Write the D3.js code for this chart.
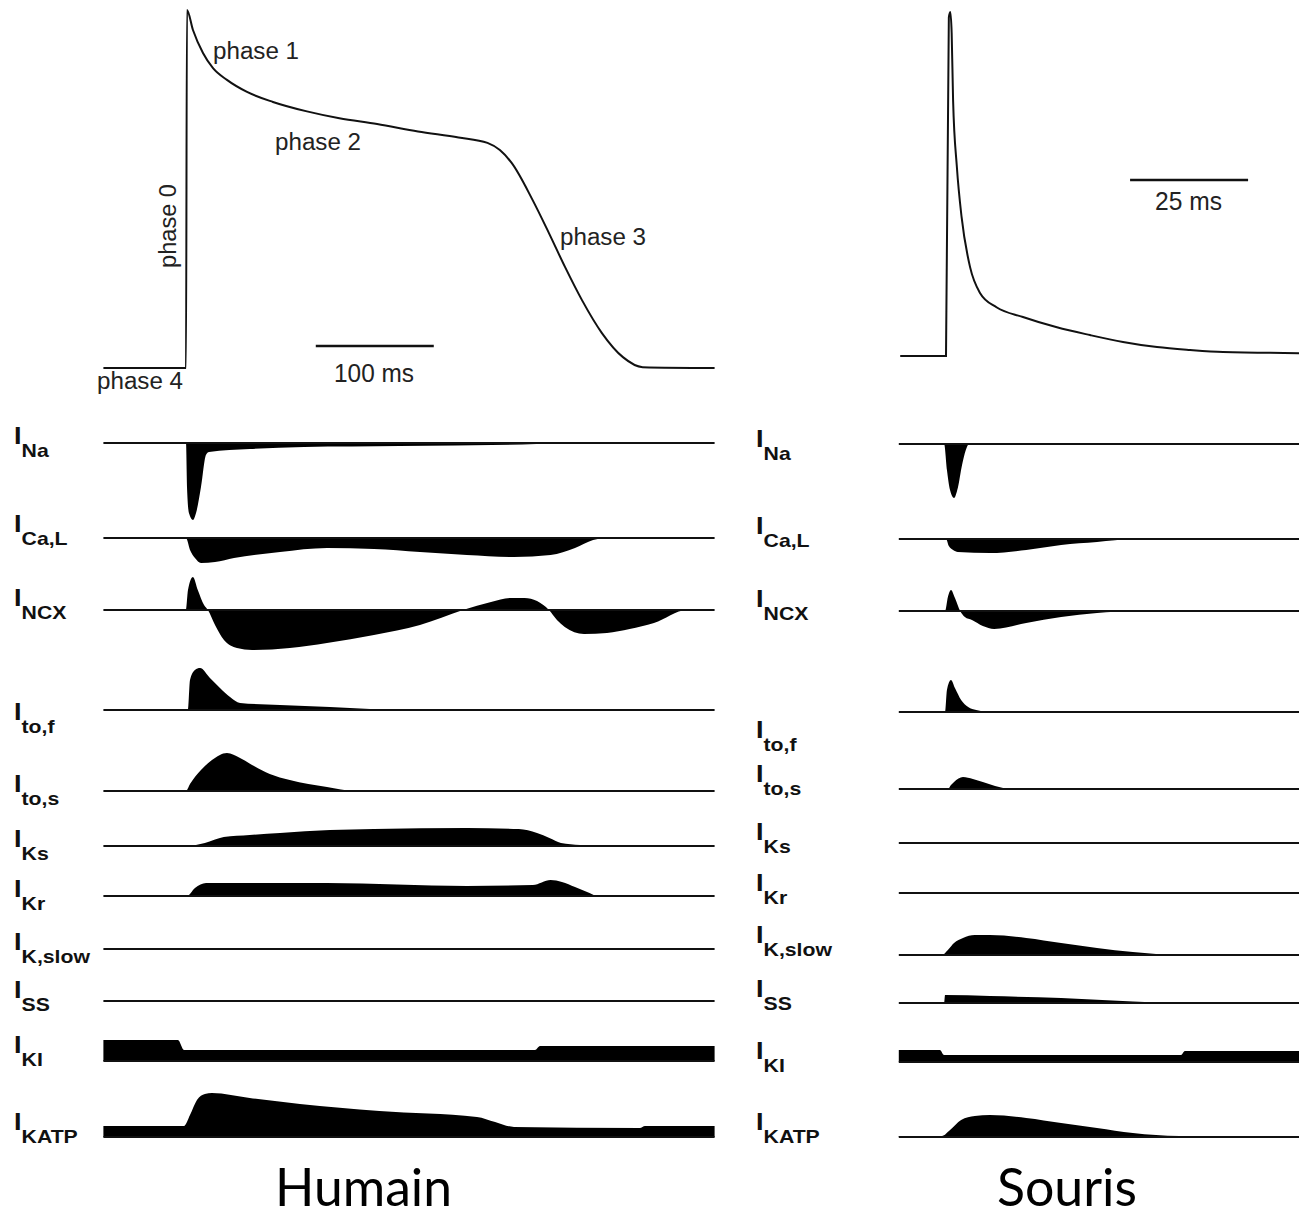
<!DOCTYPE html>
<html>
<head>
    <title>Potentiel d'action - Humain / Souris</title>
    <script src="https://d3js.org/d3.v7.min.js"></script>
    <style type="text/css">
        body { margin: 0; background: #ffffff; }
        svg { background: #ffffff; display: block; }
        .trace { fill: none; stroke: #111; stroke-width: 2; }
        .base { fill: none; stroke: #111; stroke-width: 1.8; }
        .courant { fill: #000; stroke: none; }
        .phase { font-family: "Liberation Sans", Arial, sans-serif; fill: #222; }
        .lbl { font-family: "Liberation Sans", Arial, sans-serif; font-weight: bold; fill: #111; }
        .titre { font-family: Lato, "Open Sans", sans-serif; fill: #000; }
    </style>
</head>
<body>
<div id="fig"></div>
<script>
// ---- donnees (temps en ms, potentiel en mV, courants en u.a.) ----
var apHumain = [[-70,-85],[0,-85],[0.8,40],[5.9,33],[14.4,25],[22.9,19.7],[34.7,15.6],[51.7,11.4],
    [73.7,7.9],[102.5,4.6],[130,2.2],[162,0.2],[196.6,-2.4],[231,-4.5],[255.5,-6.4],[266,-8.9],
    [276,-13.4],[293.7,-26.3],[307.6,-37.9],[321.2,-49.7],[335.6,-61.3],[352.5,-72.8],[370.3,-81.2],
    [387,-84.7],[448,-85]]
var apSouris = [[-9.7,-80],[0,-80],[0.6,38],[0.9,40],[1.2,32.7],[1.5,9.3],[2.3,-14],[3.3,-31.5],
    [5.1,-49],[7.2,-58],[10.7,-63],[16.3,-66.4],[23.5,-70],[30.5,-72.7],[37.5,-75.1],[44.7,-76.9],
    [51.7,-77.9],[58.7,-78.6],[75,-79]]

var nomsCourants = ["Na","Ca,L","NCX","to,f","to,s","Ks","Kr","K,slow","SS","KI","KATP"]

// humain
var hNa = [[-70,0],[0,0],[0.85,-11],[2.5,-17.5],[5.9,-19.25],[8.5,-17.5],[12.7,-11],[16.9,-3],[19.5,-2.25],
    [54,-1.5],[100,-1],[181,-0.75],[297,-0.25],[317,0],[448,0]]
var hCaL = [[-70,0],[0,0],[3.4,-3],[7.6,-5],[12.7,-6.25],[24.6,-6],[40.7,-5],[79.7,-3.5],[119.5,-2.5],
    [159.3,-2.75],[198.3,-3.5],[238,-4.25],[278,-4.75],[309,-4.25],[329.7,-2.5],[345,-0.5],[356.8,0],[448,0]]
var hNCX = [[-70,0],[0,0],[1.7,5],[5.9,8.25],[10,5],[15.3,1.25],[18.6,0],[24.6,-3.75],[32.2,-7.5],[43.2,-9.5],
    [56,-10],[88,-9.5],[119.5,-8.25],[159.3,-6.25],[198.3,-3.75],[234.7,0],[258.5,2],[274.6,3],[287,3],
    [297.5,2.25],[307.6,0],[314.4,-2.5],[321,-4.25],[337.3,-6],[356.8,-5.75],[376,-4.75],[396.6,-3.25],
    [424.6,0],[448,0]]
var hTof = [[-70,0],[1.7,0],[3.4,7.5],[7.6,10],[11.9,10.5],[20.3,8],[28.8,5.5],[37.3,3.25],[45.8,1.75],
    [79.7,1.25],[122,0.75],[156,0.25],[181,0],[448,0]]
var hTos = [[-70,0],[0,0],[3.4,1.75],[12.7,5.25],[22,7.75],[34.7,9.5],[45.8,8.25],[56,6.5],[71,4.25],
    [88,2.75],[119.5,1],[143,0],[448,0]]
var hKs = [[-70,0],[0.85,0],[16,0.75],[32,2.25],[54,2.75],[79.7,3.25],[122,4],[159.3,4.25],[238,4.5],
    [282,4.25],[297.5,3.25],[308,2],[317.8,0.75],[334,0.25],[349,0],[448,0]]
var hKr = [[-70,0],[0.85,0],[7.6,2],[17,3.25],[119.5,3.25],[238,2.5],[294,2.75],[309,4],[318.6,3.5],
    [329.7,2.25],[342,0.75],[349,0],[448,0]]
var hKslow = [[-70,0],[448,0]]
var hSS = [[-70,0],[448,0]]
var hK1 = [[-70,5.25],[-6.8,5.25],[-1.7,2.75],[295.8,2.75],[300,3.75],[448,3.75]]
var hKATP = [[-70,2.75],[-1.7,2.75],[3.4,5.5],[9.3,9.25],[16,10.75],[22,11],[54,9.75],[96.6,8.25],
    [164,6.5],[246.6,5],[262,3.75],[278,2.5],[384.7,2.25],[389,2.75],[448,2.75]]

// souris
var sNa = [[-10,0],[-0.4,0],[0.2,-6.5],[0.85,-11.5],[1.7,-13.5],[2.5,-11],[3.4,-5.25],[4.2,-1.5],[4.9,0],[75,0]]
var sCaL = [[-10,0],[0,0],[0.6,-1.75],[1.5,-2.75],[2.5,-3.25],[9.3,-3.5],[17,-2.75],[24.4,-1.5],[32,-0.75],
    [39.6,0],[75,0]]
var sNCX = [[-10,0],[-0.2,0],[0.4,3.5],[1.06,5.25],[1.9,3.25],[3,0],[4,-1.5],[5.5,-2.25],[7.8,-3.75],
    [10.2,-4.5],[17,-3],[24.4,-1.5],[32,-0.5],[39.6,0],[75,0]]
var sTof = [[-10,0],[-0.2,0],[0.2,5.5],[1.06,8],[1.9,6],[3.2,3],[4.7,1.25],[6.4,0.5],[9.3,0],[75,0]]
var sTos = [[-10,0],[0.4,0],[1.06,1],[1.7,1.75],[3.6,3],[5.7,2.5],[7.8,1.75],[10.4,0.75],[13.8,0],[75,0]]
var sKs = [[-10,0],[75,0]]
var sKr = [[-10,0],[75,0]]
var sKslow = [[-10,0],[-0.85,0],[0.4,1.25],[1.7,3],[3.6,4.25],[6.1,5],[9.3,5],[17,4.25],[24.4,3],[32,1.75],
    [39.6,0.75],[49.4,0],[75,0]]
var sSS = [[-10,0],[-0.4,0],[-0.2,2],[9.3,1.75],[24.4,1.25],[39.6,0.4],[49.4,0],[75,0]]
var sK1 = [[-10,3],[-1.3,3],[-0.4,1.75],[49.8,1.75],[50.6,2.75],[75,2.75]]
var sKATP = [[-10,0.25],[-0.85,0.25],[0.85,1.75],[3.2,4.25],[6.1,5.25],[9.3,5.5],[17,4.75],[24.4,3.5],
    [32,2.25],[39.6,1],[49.4,0.25],[75,0.25]]

var courantsHumain = [hNa, hCaL, hNCX, hTof, hTos, hKs, hKr, hKslow, hSS, hK1, hKATP]
var courantsSouris = [sNa, sCaL, sNCX, sTof, sTos, sKs, sKr, sKslow, sSS, sK1, sKATP]

// ---- mise en page ----
var width = 1299, height = 1216

var svg = d3.select("#fig")
    .append("svg")
    .attr("width", width)
    .attr("height", height)

var panneaux = [
    {
        ap: apHumain, courants: courantsHumain,
        x: d3.scaleLinear().domain([-70, 448]).range([103.4, 714.6]),
        yAP: d3.scaleLinear().domain([-85, 40]).range([368, 10]),
        lignes: [443, 538, 610, 710, 791, 846, 896, 949, 1001, 1061, 1137],
        lblX: 14,
        lblY: [444, 532, 606, 720, 792, 847, 897, 950, 998, 1053, 1130],
        barre: [110, 210], barreY: 346, barreTxt: "100 ms", txtX: 334, txtY: 382, txtL: 80, txtF: 25
    },
    {
        ap: apSouris, courants: courantsSouris,
        x: d3.scaleLinear().domain([-10, 75]).range([898.8, 1300]),
        yAP: d3.scaleLinear().domain([-80, 40]).range([356, 12]),
        lignes: [444, 539, 611, 712, 789, 843, 893, 955, 1003, 1062, 1137],
        lblX: 756,
        lblY: [447, 534, 607, 738, 782, 840, 891, 943, 997, 1059, 1130],
        barre: [39, 64], barreY: 180, barreTxt: "25 ms", txtX: 1155, txtY: 210, txtL: 67, txtF: 26
    }
]

panneaux.forEach(function(p) {
    var x = p.x

    // potentiel d'action
    var ligneAP = d3.line()
        .x(function(d) { return x(d[0]) })
        .y(function(d) { return p.yAP(d[1]) })
        .curve(d3.curveMonotoneX)

    svg.append("path")
        .datum(p.ap)
        .attr("class", "trace")
        .attr("d", ligneAP)

    // barre d'echelle
    svg.append("line")
        .attr("class", "trace")
        .attr("x1", x(p.barre[0])).attr("x2", x(p.barre[1]))
        .attr("y1", p.barreY).attr("y2", p.barreY)
        .style("stroke-width", 2.4)
    svg.append("text")
        .attr("class", "phase")
        .attr("x", p.txtX).attr("y", p.txtY)
        .attr("font-size", p.txtF)
        .attr("textLength", p.txtL)
        .attr("lengthAdjust", "spacingAndGlyphs")
        .text(p.barreTxt)

    // courants ioniques
    p.courants.forEach(function(c, i) {
        var base = p.lignes[i]
        var y = d3.scaleLinear().domain([-30, 30]).range([base + 120, base - 120])

        var aire = d3.area()
            .x(function(d) { return x(d[0]) })
            .y0(y(0))
            .y1(function(d) { return y(d[1]) })
            .curve(d3.curveMonotoneX)

        svg.append("path")
            .datum(c)
            .attr("class", "courant")
            .attr("d", aire)

        svg.append("line")
            .attr("class", "base")
            .attr("x1", x.range()[0]).attr("x2", x.range()[1])
            .attr("y1", y(0)).attr("y2", y(0))

        var g = svg.append("g")
            .attr("transform", "translate(" + p.lblX + "," + p.lblY[i] + ") scale(1.18,1)")
        var t = g.append("text").attr("class", "lbl")
        t.append("tspan").attr("font-size", 23).text("I")
        t.append("tspan").attr("font-size", 18).attr("dy", 13).text(nomsCourants[i])
    })
})

// etiquettes des phases (humain)
var phases = [
    {t: "phase 1", x: 213, y: 59},
    {t: "phase 2", x: 275, y: 150},
    {t: "phase 3", x: 560, y: 245},
    {t: "phase 4", x: 97, y: 389}
]
svg.selectAll(".ph")
    .data(phases)
    .enter().append("text")
    .attr("class", "phase")
    .attr("x", function(d) { return d.x })
    .attr("y", function(d) { return d.y })
    .attr("font-size", 23)
    .attr("textLength", 86)
    .attr("lengthAdjust", "spacingAndGlyphs")
    .text(function(d) { return d.t })

svg.append("text")
    .attr("class", "phase")
    .attr("transform", "translate(176,226) rotate(-90)")
    .attr("text-anchor", "middle")
    .attr("font-size", 23)
    .attr("textLength", 84)
    .attr("lengthAdjust", "spacingAndGlyphs")
    .text("phase 0")

// titres
svg.append("text").attr("class", "titre")
    .attr("x", 275).attr("y", 1206)
    .attr("font-size", 52)
    .attr("textLength", 177).attr("lengthAdjust", "spacingAndGlyphs")
    .text("Humain")
svg.append("text").attr("class", "titre")
    .attr("x", 997).attr("y", 1206)
    .attr("font-size", 52)
    .attr("textLength", 140).attr("lengthAdjust", "spacingAndGlyphs")
    .text("Souris")
</script>
</body>
</html>
